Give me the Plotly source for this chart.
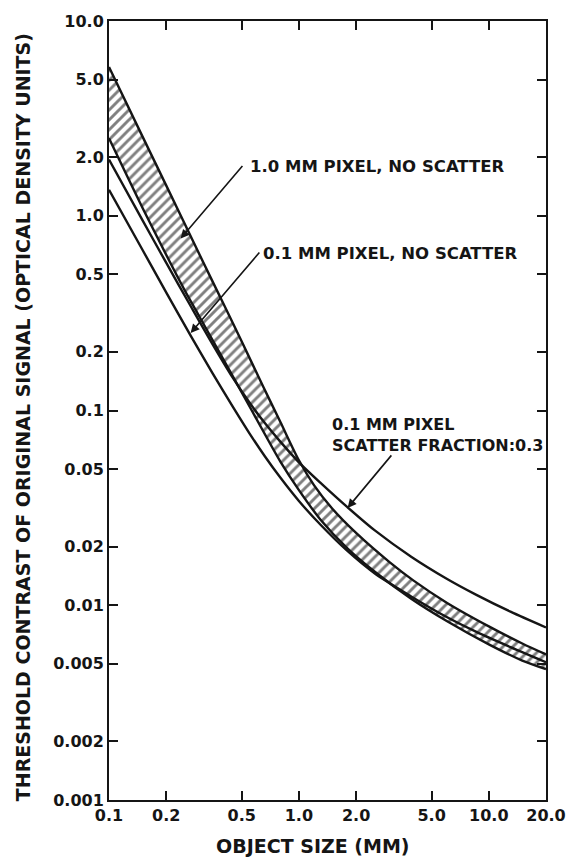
import plotly.graph_objects as go

# Object size (mm) and threshold contrast (optical density units)

# 1.0 mm pixel, no scatter: hatched band, upper and lower bounds
band_hi_x = [0.1, 0.15, 0.2, 0.3, 0.4, 0.5, 0.65, 0.8, 1.0, 1.2, 1.5, 2.0, 3.0, 4.0, 6.0, 10.0, 15.0, 20.0]
band_hi_y = [5.8, 2.556, 1.432, 0.63, 0.354, 0.226, 0.132, 0.087, 0.0555, 0.0414, 0.0313, 0.0235,
             0.01665, 0.01342, 0.01031, 0.00779, 0.00636, 0.00559]

band_lo_x = [0.1, 0.15, 0.2, 0.25, 0.3, 0.4, 0.5, 0.65, 0.8, 1.0, 1.3, 1.8, 2.5, 3.9, 6.0, 10.0, 15.0, 20.0]
band_lo_y = [2.5, 1.10, 0.63, 0.415, 0.302, 0.183, 0.124, 0.078, 0.0545, 0.039, 0.0275, 0.0196,
             0.0149, 0.0108, 0.0083, 0.0063, 0.0052, 0.0047]

# 0.1 mm pixel, no scatter
fine_x = [0.1, 0.15, 0.2, 0.27, 0.35, 0.45, 0.55, 0.66, 0.8, 1.0, 1.3, 1.8, 2.5, 3.9, 6.0, 8.6, 13.0, 20.0]
fine_y = [1.36, 0.669, 0.404, 0.241, 0.156, 0.104, 0.0761, 0.0584, 0.0451, 0.0343, 0.0259, 0.019,
          0.0146, 0.0111, 0.0087, 0.0073, 0.0061, 0.0051]

# 0.1 mm pixel, scatter fraction 0.3
scat_x = [0.1, 0.15, 0.2, 0.27, 0.35, 0.45, 0.55, 0.66, 0.8, 1.0, 1.3, 1.8, 2.5, 3.9, 6.0, 8.6, 13.0, 20.0]
scat_y = [1.945, 0.95, 0.574, 0.342, 0.22, 0.1466, 0.1096, 0.0864, 0.069, 0.0542, 0.0425, 0.0319,
          0.0243, 0.01776, 0.01369, 0.01131, 0.00927, 0.00769]

x_ticks = [0.1, 0.2, 0.5, 1.0, 2.0, 5.0, 10.0, 20.0]
x_tick_text = ["0.1", "0.2", "0.5", "1.0", "2.0", "5.0", "10.0", "20.0"]
y_ticks = [0.001, 0.002, 0.005, 0.01, 0.02, 0.05, 0.1, 0.2, 0.5, 1.0, 2.0, 5.0, 10.0]
y_tick_text = ["0.001", "0.002", "0.005", "0.01", "0.02", "0.05", "0.1", "0.2", "0.5", "1.0", "2.0", "5.0", "10.0"]

INK = "#151515"
FONT = "DejaVu Sans"
LW = 2.4
curve = dict(color=INK, width=LW, shape="spline", smoothing=0.8)

fig = go.Figure()

# lower edge of the band
fig.add_trace(go.Scatter(
    x=band_lo_x, y=band_lo_y, mode="lines", line=curve,
    hoverinfo="skip", showlegend=False,
))
# upper edge, hatched down to the lower edge
fig.add_trace(go.Scatter(
    x=band_hi_x, y=band_hi_y, mode="lines", fill="tonexty",
    fillcolor="white",
    fillpattern=dict(shape="/", size=7, solidity=0.42, fgcolor="#000000", bgcolor="white"),
    line=curve, hoverinfo="skip", showlegend=False,
))
fig.add_trace(go.Scatter(x=fine_x, y=fine_y, mode="lines", line=curve, showlegend=False))
fig.add_trace(go.Scatter(x=scat_x, y=scat_y, mode="lines", line=curve, showlegend=False))

axis_common = dict(
    type="log", showgrid=False, zeroline=False,
    showline=True, linecolor=INK, linewidth=2,
    ticks="inside", ticklen=9, tickwidth=2, tickcolor=INK,
    mirror="ticks",
    tickfont=dict(family=FONT, size=16, color=INK, weight="bold"),
)

fig.update_xaxes(range=[-1, 1.30103], tickvals=x_ticks, ticktext=x_tick_text, **axis_common)
fig.update_yaxes(range=[-3, 1], tickvals=y_ticks, ticktext=y_tick_text, **axis_common)

label_font = dict(family=FONT, size=16.5, color=INK, weight="bold")
title_font = dict(family=FONT, size=19, color=INK, weight="bold")
arrow = dict(text="", xref="x", yref="y", showarrow=True, arrowhead=2,
             arrowsize=1.1, arrowwidth=1.6, arrowcolor=INK)

annotations = [
    # labels
    dict(text="1.0 MM PIXEL, NO SCATTER", xref="paper", yref="paper",
         x=0.317, y=0.813, xanchor="left", yanchor="middle", showarrow=False, font=label_font),
    dict(text="0.1 MM PIXEL, NO SCATTER", xref="paper", yref="paper",
         x=0.348, y=0.702, xanchor="left", yanchor="middle", showarrow=False, font=label_font),
    dict(text="0.1 MM PIXEL<br>SCATTER FRACTION:0.3", xref="paper", yref="paper",
         x=0.506, y=0.469, xanchor="left", yanchor="middle", align="left",
         showarrow=False, font=dict(family=FONT, size=16, color=INK, weight="bold")),
    # leader arrows (tip on the curve, tail at the label)
    dict(x=-0.6225, y=-0.117, ax=63, ay=-74, **arrow),
    dict(x=-0.570, y=-0.602, ax=70, ay=-82, **arrow),
    dict(x=0.2565, y=-1.50, ax=45, ay=-54, **arrow),
    # axis titles
    dict(text="OBJECT SIZE (MM)", xref="paper", yref="paper", x=0.467, y=-0.0588,
         xanchor="center", yanchor="middle", showarrow=False, font=title_font),
    dict(text="THRESHOLD CONTRAST OF ORIGINAL SIGNAL (OPTICAL DENSITY UNITS)",
         xref="paper", yref="paper", x=-0.198, y=0.492, textangle=-90,
         xanchor="center", yanchor="middle", showarrow=False, font=title_font),
]

fig.update_layout(
    width=578, height=857,
    margin=dict(l=109, r=24, t=18, b=57),
    paper_bgcolor="white", plot_bgcolor="white",
    annotations=annotations,
    showlegend=False,
)

fig.write_html("out.html")
